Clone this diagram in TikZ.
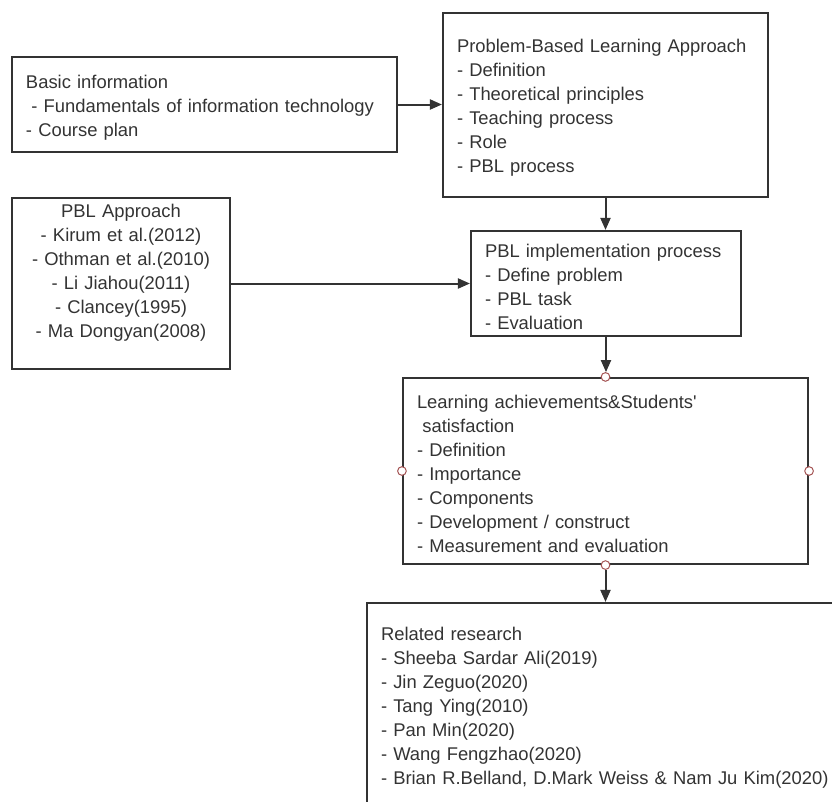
\documentclass[tikz,border=0pt]{standalone}
\usepackage{fontspec}
\setmainfont{Liberation Sans}
\usepackage{tikz}
\usetikzlibrary{shapes, arrows.meta, positioning, calc}
\definecolor{linegray}{RGB}{51, 51, 51}
\definecolor{dotred}{RGB}{165, 85, 85}

\begin{document}
\begin{tikzpicture}[
  x=0.75pt, y=-0.75pt,
  tbox/.style={draw=linegray, line width=1.6pt, text=linegray, align=left, inner xsep=10.5pt, inner ysep=0pt, font=\fontsize{13.8}{18}\selectfont, execute at begin node=\rule{0pt}{14.5pt}},
  flow/.style={draw=linegray, line width=1.5pt, -{Triangle[length=9pt, width=7.5pt]}},
  hdot/.style={circle, draw=dotred, fill=white, line width=0.75pt, minimum size=6.5pt, inner sep=0pt}
]
  \useasboundingbox (0,0) rectangle (832,801);
  \clip (0,0) rectangle (832,801);

  \node[tbox, text width=267.75pt, minimum height=71.25pt] (basic) at (204.5, 104.5)
    {Basic information\\\hspace*{4pt}- Fundamentals of information technology\\- Course plan};
  \node[tbox, text width=222.75pt, minimum height=138pt] (pbla) at (605.5, 105)
    {Problem-Based Learning Approach\\- Definition\\- Theoretical principles\\- Teaching process\\- Role\\- PBL process};
  \node[tbox, align=center, text width=142.5pt, minimum height=125.25pt] (approach) at (121, 283.5)
    {PBL Approach\\- Kirum et al.(2012)\\- Othman et al.(2010)\\- Li Jiahou(2011)\\- Clancey(1995)\\- Ma Dongyan(2008)\\\strut};
  \node[tbox, text width=181.5pt, minimum height=78.75pt] (impl) at (606, 283.5)
    {PBL implementation process\\- Define problem\\- PBL task\\- Evaluation};
  \node[tbox, text width=282.75pt, minimum height=139.5pt] (learn) at (605.5, 471)
    {Learning achievements\&Students\textquotesingle\\\hspace*{4pt}satisfaction\\- Definition\\- Importance\\- Components\\- Development / construct\\- Measurement and evaluation};
  \node[tbox, text width=339pt, minimum height=153pt] (related) at (607, 705)
    {Related research\\- Sheeba Sardar Ali(2019)\\- Jin Zeguo(2020)\\- Tang Ying(2010)\\- Pan Min(2020)\\- Wang Fengzhao(2020)\\- Brian R.Belland, D.Mark Weiss \& Nam Ju Kim(2020)};

  \foreach \a in {north, south, east, west}
    \node[hdot] (dot-\a) at (learn.\a) {};

  \draw[flow] (basic.east) -- (basic.east -| pbla.west);
  \draw[flow] (approach.east) -- (approach.east -| impl.west);
  \draw[flow] (pbla.south) -- (pbla.south |- impl.north);
  \draw[flow] (impl.south) -- (impl.south |- dot-north.north);
  \draw[flow] (dot-south.south) -- (dot-south.south |- related.north);
\end{tikzpicture}
\end{document}
